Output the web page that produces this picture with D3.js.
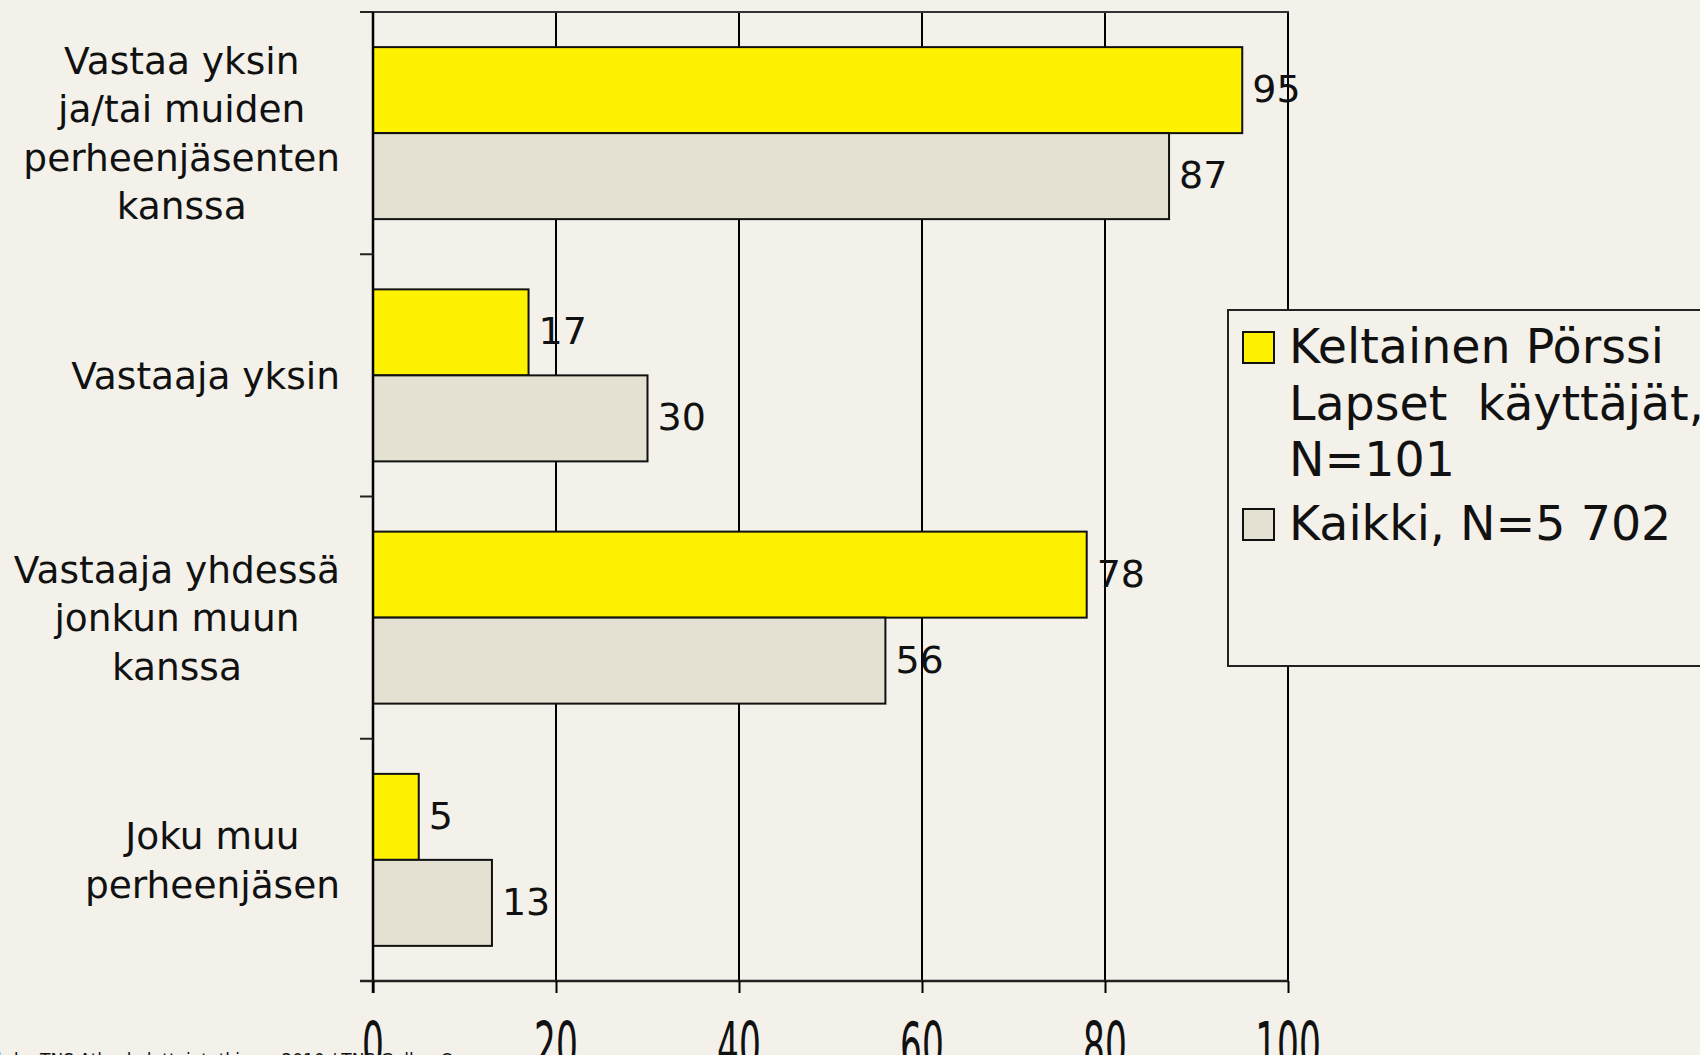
<!DOCTYPE html>
<html>
<head>
<meta charset="utf-8">
<script src="https://cdn.jsdelivr.net/npm/d3@7"></script>
<style>
  html, body { margin: 0; padding: 0; background: #f3f1ea; overflow: hidden; }
  svg { display: block; font-family: "DejaVu Sans", Verdana, sans-serif; }
</style>
</head>
<body>
<div id="chart"></div>
<script>
// categories (each label split into its lines)
var categories = [
    "Vastaa yksin ja/tai muiden perheenjäsenten kanssa",
    "Vastaaja yksin",
    "Vastaaja yhdessä jonkun muun kanssa",
    "Joku muu perheenjäsen"
];
var categoryLines = [
    ["Vastaa yksin", "ja/tai muiden", "perheenjäsenten", "kanssa"],
    ["Vastaaja yksin"],
    ["Vastaaja yhdessä", "jonkun muun", "kanssa"],
    ["Joku muu", "perheenjäsen"]
];

var seriesNames = ["Keltainen Pörssi Lapset  käyttäjät, N=101", "Kaikki, N=5 702"];
var legendLines = [
    ["Keltainen Pörssi", "Lapset  käyttäjät,", "N=101"],
    ["Kaikki, N=5 702"]
];
var keltainen = [95, 17, 78, 5];
var kaikki = [87, 30, 56, 13];

var xTicks = [0, 20, 40, 60, 80, 100];
var sourceText = "Lähde: TNS Atlas kuluttajatutkimus 2010 / TNS Gallup Oy";

var width = 1700;
var height = 1055;
var plotLeft = 373, plotRight = 1288, plotTop = 12, plotBottom = 981;

var colors = ["#fff200", "#e4e1d2"];

var svg = d3.select('#chart')
    .append('svg')
    .attr('width', width)
    .attr('height', height);

svg.append('rect')
    .attr('width', width)
    .attr('height', height)
    .attr('fill', '#f3f1ea');

var x = d3.scaleLinear()
    .domain([0, 100])
    .range([plotLeft, plotRight]);

var y = d3.scaleBand()
    .domain(categories)
    .range([plotTop, plotBottom])
    .paddingInner(0.29)
    .paddingOuter(0.145);

var y1 = d3.scaleBand()
    .domain(seriesNames)
    .range([0, y.bandwidth()]);

var step = y.step();

// gridlines
svg.append('g')
    .selectAll('line')
    .data(xTicks.slice(1))
    .enter()
    .append('line')
    .attr('x1', function (d) { return x(d); })
    .attr('x2', function (d) { return x(d); })
    .attr('y1', plotTop)
    .attr('y2', plotBottom)
    .attr('stroke', '#000')
    .attr('stroke-width', 2);

// top border
svg.append('line')
    .attr('x1', plotLeft - 13)
    .attr('x2', plotRight + 1)
    .attr('y1', plotTop)
    .attr('y2', plotTop)
    .attr('stroke', '#333')
    .attr('stroke-width', 2);

// bars
var rows = categories.map(function (c, i) {
    return { cat: c, values: [keltainen[i], kaikki[i]] };
});

var groups = svg.selectAll('.cat')
    .data(rows)
    .enter()
    .append('g')
    .attr('class', 'cat')
    .attr('transform', function (d) {
        return 'translate(0,' + y(d.cat) + ')';
    });

groups.selectAll('rect')
    .data(function (d) {
        return d.values.map(function (v, j) { return { s: seriesNames[j], v: v, j: j }; });
    })
    .enter()
    .append('rect')
    .attr('x', x(0))
    .attr('y', function (d) { return y1(d.s); })
    .attr('width', function (d) { return x(d.v) - x(0); })
    .attr('height', y1.bandwidth())
    .attr('fill', function (d) { return colors[d.j]; })
    .attr('stroke', '#111')
    .attr('stroke-width', 2);

groups.selectAll('.val')
    .data(function (d) {
        return d.values.map(function (v, j) { return { s: seriesNames[j], v: v }; });
    })
    .enter()
    .append('text')
    .attr('class', 'val')
    .attr('x', function (d) { return x(d.v) + 10; })
    .attr('y', function (d) { return y1(d.s) + y1.bandwidth() / 2 + 12; })
    .attr('font-size', 38)
    .attr('fill', '#111')
    .text(function (d) { return d.v; });

// left axis
svg.append('line')
    .attr('x1', plotLeft)
    .attr('x2', plotLeft)
    .attr('y1', plotTop)
    .attr('y2', plotBottom + 12)
    .attr('stroke', '#000')
    .attr('stroke-width', 2.5);

svg.append('g')
    .selectAll('line')
    .data(d3.range(categories.length + 1))
    .enter()
    .append('line')
    .attr('x1', plotLeft - 13)
    .attr('x2', plotLeft)
    .attr('y1', function (i) { return plotTop + i * step; })
    .attr('y2', function (i) { return plotTop + i * step; })
    .attr('stroke', '#222')
    .attr('stroke-width', 2);

// category labels: block right-aligned, lines centred
var labelRight = 340;
categories.forEach(function (c, i) {
    var lines = categoryLines[i];
    var g = svg.append('g');
    var texts = g.selectAll('text')
        .data(lines)
        .enter()
        .append('text')
        .attr('font-size', 37.5)
        .attr('fill', '#111')
        .attr('text-anchor', 'middle')
        .text(function (d) { return d; });
    var maxW = 0;
    texts.each(function () {
        maxW = Math.max(maxW, this.getComputedTextLength());
    });
    var cy = y(c) + y.bandwidth() / 2;
    texts
        .attr('x', labelRight - maxW / 2)
        .attr('y', function (d, k) {
            return cy + (k - (lines.length - 1) / 2) * 48.5 + 13.5;
        });
});

// bottom axis
var xAxis = d3.axisBottom(x)
    .tickValues(xTicks)
    .tickSize(12)
    .tickFormat('');

var axisG = svg.append('g')
    .attr('transform', 'translate(0,' + plotBottom + ')')
    .call(xAxis);
axisG.select('.domain')
    .attr('d', 'M' + (plotLeft - 13) + ',0H' + (plotRight + 1))
    .attr('stroke', '#222')
    .attr('stroke-width', 2.5);
axisG.selectAll('.tick line')
    .attr('stroke', '#000')
    .attr('stroke-width', 2);

svg.append('g')
    .selectAll('text')
    .data(xTicks)
    .enter()
    .append('text')
    .attr('transform', function (d) {
        return 'translate(' + x(d) + ',1068) scale(0.86,1.6)';
    })
    .attr('text-anchor', 'middle')
    .attr('font-size', 40)
    .attr('fill', '#111')
    .text(function (d) { return d; });

// legend
var legend = svg.append('g')
    .attr('transform', 'translate(1228,310)');

legend.append('rect')
    .attr('width', 560)
    .attr('height', 356)
    .attr('fill', '#f3f1ea')
    .attr('stroke', '#222')
    .attr('stroke-width', 2);

var legendItemY = [22, 199];
legendLines.forEach(function (lines, i) {
    legend.append('rect')
        .attr('x', 15)
        .attr('y', legendItemY[i])
        .attr('width', 31)
        .attr('height', 31)
        .attr('fill', colors[i])
        .attr('stroke', '#111')
        .attr('stroke-width', 2);
    legend.selectAll('.lt' + i)
        .data(lines)
        .enter()
        .append('text')
        .attr('class', 'lt' + i)
        .attr('x', 61)
        .attr('y', function (d, k) { return legendItemY[i] + 31 + k * 56.5; })
        .attr('font-size', 47.5)
        .attr('fill', '#111')
        .style('white-space', 'pre')
        .text(function (d) { return d; });
});

// source line (mostly cut off at the bottom edge)
svg.append('text')
    .attr('x', -23)
    .attr('y', 1066)
    .attr('font-size', 17)
    .attr('fill', '#111')
    .text(sourceText);
</script>
</body>
</html>
